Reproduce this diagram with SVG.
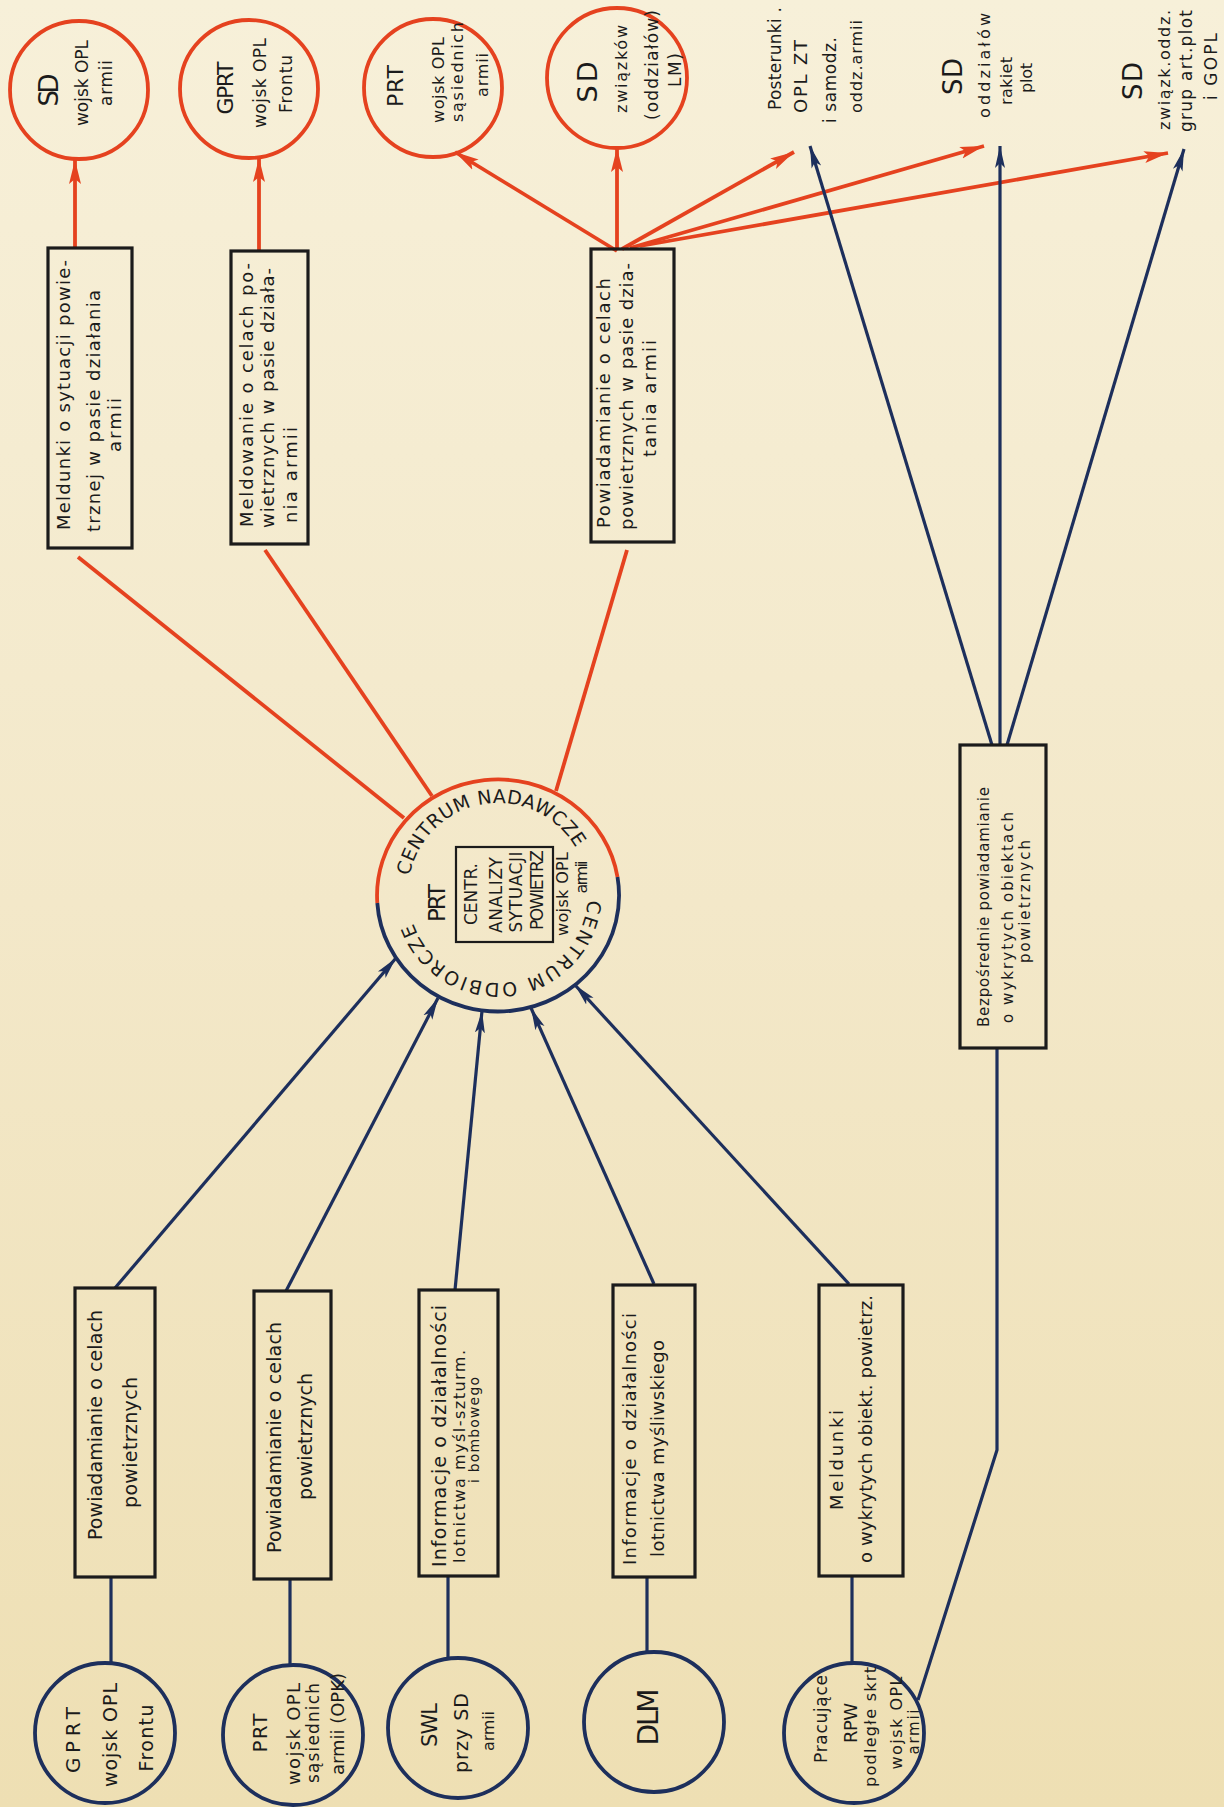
<svg xmlns="http://www.w3.org/2000/svg" width="1224" height="1807" viewBox="0 0 1224 1807">
<defs>
<linearGradient id="paper" x1="0" y1="0" x2="0" y2="1">
<stop offset="0" stop-color="#f7f0d9"/>
<stop offset="0.5" stop-color="#f3e8c9"/>
<stop offset="1" stop-color="#eedfb3"/>
</linearGradient>
<marker id="ar" markerUnits="userSpaceOnUse" markerWidth="26" markerHeight="14" refX="24" refY="7" orient="auto">
<path d="M0,1 L24,7 L0,13 L5,7 z" fill="#e5421f"/>
</marker>
<marker id="ab" markerUnits="userSpaceOnUse" markerWidth="24" markerHeight="12" refX="22" refY="6" orient="auto">
<path d="M0,1 L22,6 L0,11 L5,6 z" fill="#1d2f5c"/>
</marker>
<path id="ring" d="M408,893 A90,90 0 1 1 588,893 A90,90 0 1 1 408,893"/>
</defs>
<style>
text{font-family:"DejaVu Sans","Liberation Sans",sans-serif;fill:#1b1b1b;}
.m{text-anchor:middle;}
.rc{fill:none;stroke:#e5421f;stroke-width:3.8;}
.bc{fill:none;stroke:#1d2f5c;stroke-width:3.8;}
.bx{fill:none;stroke:#1b1b1b;stroke-width:3.2;}
.rl{fill:none;stroke:#e5421f;stroke-width:3.8;}
.bl{fill:none;stroke:#1d2f5c;stroke-width:3.2;}
</style>
<rect x="0" y="0" width="1224" height="1807" fill="url(#paper)"/>

<g id="connectors">
<line class="rl" x1="75" y1="248" x2="75" y2="160" marker-end="url(#ar)"/>
<line class="rl" x1="259" y1="251" x2="259" y2="158" marker-end="url(#ar)"/>
<line class="rl" x1="617" y1="251" x2="455" y2="152" marker-end="url(#ar)"/>
<line class="rl" x1="617" y1="249" x2="617" y2="148" marker-end="url(#ar)"/>
<line class="rl" x1="622" y1="249" x2="794" y2="152" marker-end="url(#ar)"/>
<line class="rl" x1="630" y1="248" x2="984" y2="146" marker-end="url(#ar)"/>
<line class="rl" x1="640" y1="246" x2="1168" y2="153" marker-end="url(#ar)"/>
<line class="rl" x1="78" y1="557" x2="404" y2="818"/>
<line class="rl" x1="265" y1="550" x2="432" y2="796"/>
<line class="rl" x1="627" y1="550" x2="556" y2="791"/>
<line class="bl" x1="115" y1="1288" x2="396" y2="958" marker-end="url(#ab)"/>
<line class="bl" x1="286" y1="1291" x2="438" y2="998" marker-end="url(#ab)"/>
<line class="bl" x1="455" y1="1290" x2="482" y2="1011" marker-end="url(#ab)"/>
<line class="bl" x1="654" y1="1284" x2="531" y2="1008" marker-end="url(#ab)"/>
<line class="bl" x1="849" y1="1284" x2="575" y2="985" marker-end="url(#ab)"/>
<line class="bl" x1="111" y1="1577" x2="111" y2="1663"/>
<line class="bl" x1="290" y1="1579" x2="290" y2="1665"/>
<line class="bl" x1="448" y1="1576" x2="448" y2="1658"/>
<line class="bl" x1="647" y1="1577" x2="647" y2="1652"/>
<line class="bl" x1="852" y1="1576" x2="852" y2="1663"/>
<polyline class="bl" points="918,1700 997,1450 997,1048"/>
<line class="bl" x1="992" y1="745" x2="810" y2="146" marker-end="url(#ab)"/>
<line class="bl" x1="1000" y1="745" x2="1000" y2="146" marker-end="url(#ab)"/>
<line class="bl" x1="1007" y1="745" x2="1184" y2="149" marker-end="url(#ab)"/>
</g>

<g id="sd-opl-armii">
<circle class="rc" cx="79" cy="90" r="69"/>
<g transform="rotate(-90)">
<text class="m" x="-90" y="58" font-size="26" textLength="33">SD</text>
<text class="m" x="-83" y="88" font-size="17" textLength="86">wojsk OPL</text>
<text class="m" x="-83" y="112" font-size="17" textLength="46">armii</text>
</g>
</g>

<g id="gprt-frontu-top">
<circle class="rc" cx="249" cy="89" r="69"/>
<g transform="rotate(-90)">
<text class="m" x="-88" y="233" font-size="22" textLength="53">GPRT</text>
<text class="m" x="-83" y="266" font-size="17" textLength="90">wojsk OPL</text>
<text class="m" x="-84" y="292" font-size="17" textLength="58">Frontu</text>
</g>
</g>

<g id="prt-sasiednich-top">
<circle class="rc" cx="433" cy="88" r="69"/>
<g transform="rotate(-90)">
<text class="m" x="-86" y="403" font-size="22" textLength="42">PRT</text>
<text class="m" x="-80" y="444" font-size="16" textLength="86">wojsk OPL</text>
<text class="m" x="-72" y="463" font-size="16" textLength="100">sąsiednich</text>
<text class="m" x="-75" y="488" font-size="16" textLength="44">armii</text>
</g>
</g>

<g id="sd-zwiazkow">
<circle class="rc" cx="617" cy="78" r="70"/>
<g transform="rotate(-90)">
<text class="m" x="-82" y="597" font-size="27" textLength="41">SD</text>
<text class="m" x="-69" y="627" font-size="16" textLength="88">związków</text>
<text class="m" x="-65" y="658" font-size="17" textLength="110">(oddziałów)</text>
<text class="m" x="-70" y="681" font-size="17" textLength="34">LM)</text>
</g>
</g>

<g id="posterunki">
<g transform="rotate(-90)">
<text x="-110" y="781" font-size="17" textLength="103">Posterunki .</text>
<text x="-113" y="807" font-size="18" textLength="73">OPL ZT</text>
<text x="-123" y="836" font-size="17" textLength="86">i samodz.</text>
<text x="-113" y="862" font-size="16" textLength="93">oddz.armii</text>
</g>
</g>

<g id="sd-rakiet">
<g transform="rotate(-90)">
<text x="-95" y="962" font-size="26" textLength="37">SD</text>
<text x="-118" y="990" font-size="16" textLength="105">oddziałów</text>
<text x="-105" y="1012" font-size="16" textLength="48">rakiet</text>
<text x="-93" y="1032" font-size="16" textLength="30">plot</text>
</g>
</g>

<g id="sd-gopl">
<g transform="rotate(-90)">
<text x="-100" y="1142" font-size="26" textLength="38">SD</text>
<text x="-130" y="1170" font-size="16" textLength="120">związk.oddz.</text>
<text x="-132" y="1192" font-size="17" textLength="122">grup art.plot</text>
<text x="-100" y="1217" font-size="17" textLength="67">i GOPL</text>
</g>
</g>

<g id="box-meldunki-sytuacji">
<rect class="bx" x="48" y="248" width="84" height="300"/>
<g transform="rotate(-90)">
<text x="-530" y="70" font-size="18" textLength="270">Meldunki o sytuacji powie-</text>
<text x="-532" y="100" font-size="18" textLength="242">trznej w pasie  działania</text>
<text x="-452" y="121" font-size="18" textLength="54">armii</text>
</g>
</g>

<g id="box-meldowanie">
<rect class="bx" x="231" y="251" width="77" height="293"/>
<g transform="rotate(-90)">
<text x="-527" y="253" font-size="18" textLength="264">Meldowanie o celach po-</text>
<text x="-528" y="274" font-size="18" textLength="260">wietrznych w pasie działa-</text>
<text x="-523" y="297" font-size="18" textLength="96">nia armii</text>
</g>
</g>

<g id="box-powiadamianie-armii">
<rect class="bx" x="591" y="249" width="83" height="293"/>
<g transform="rotate(-90)">
<text x="-528" y="610" font-size="18" textLength="250">Powiadamianie o celach</text>
<text x="-530" y="633" font-size="18" textLength="267">powietrznych w pasie dzia-</text>
<text x="-457" y="656" font-size="18" textLength="117">tania armii</text>
</g>
</g>

<g id="box-bezposrednie">
<rect class="bx" x="960" y="745" width="86" height="303"/>
<g transform="rotate(-90)">
<text x="-1027" y="989" font-size="15" textLength="240">Bezpośrednie  powiadamianie</text>
<text x="-1023" y="1013" font-size="15" textLength="211">o wykrytych  obiektach</text>
<text x="-963" y="1030" font-size="15" textLength="123">powietrznych</text>
</g>
</g>

<g id="centrum">
<path d="M377.3,903 A121,116 0 0 1 617.5,877" fill="none" stroke="#e5421f" stroke-width="3.8"/>
<path d="M617.5,877 A121,116 0 1 1 377.3,903" fill="none" stroke="#1d2f5c" stroke-width="3.8"/>
<text font-size="19"><textPath href="#ring" startOffset="17" textLength="218">CENTRUM NADAWCZE</textPath></text>
<text font-size="19"><textPath href="#ring" startOffset="289" textLength="245">CENTRUM ODBIORCZE</textPath></text>
<rect x="456" y="847" width="97" height="95" fill="none" stroke="#1b1b1b" stroke-width="2.2"/>
<g transform="rotate(-90)">
<text class="m" x="-903" y="445" font-size="23" textLength="38">PRT</text>
<text class="m" x="-894" y="477" font-size="17" textLength="62">CENTR.</text>
<text class="m" x="-895" y="502" font-size="17" textLength="76">ANALIZY</text>
<text class="m" x="-892" y="522" font-size="17" textLength="81">SYTUACJI</text>
<text class="m" x="-890" y="543" font-size="17" textLength="80">POWIETRZ</text>
<text class="m" x="-894" y="568" font-size="16" textLength="84">wojsk OPL</text>
<text class="m" x="-877" y="587" font-size="16" textLength="33">armii</text>
</g>
</g>

<g id="box-powiadamianie-1">
<rect class="bx" x="75" y="1288" width="80" height="289"/>
<g transform="rotate(-90)">
<text x="-1540" y="102" font-size="19" textLength="230">Powiadamianie o celach</text>
<text x="-1508" y="137" font-size="19" textLength="131">powietrznych</text>
</g>
</g>

<g id="box-powiadamianie-2">
<rect class="bx" x="254" y="1291" width="77" height="288"/>
<g transform="rotate(-90)">
<text x="-1553" y="281" font-size="19" textLength="231">Powiadamianie  o  celach</text>
<text x="-1500" y="312" font-size="19" textLength="127">powietrznych</text>
</g>
</g>

<g id="box-informacje-szturm">
<rect class="bx" x="419" y="1290" width="79" height="286"/>
<g transform="rotate(-90)">
<text x="-1567" y="446" font-size="19" textLength="262">Informacje o działalności</text>
<text x="-1563" y="465" font-size="16" textLength="213">lotnictwa  myśl-szturm.</text>
<text x="-1483" y="479" font-size="14" textLength="106">i bombowego</text>
</g>
</g>

<g id="box-informacje-mysliwskie">
<rect class="bx" x="613" y="1285" width="82" height="292"/>
<g transform="rotate(-90)">
<text x="-1565" y="636" font-size="18" textLength="252">Informacje o działalności</text>
<text x="-1557" y="664" font-size="18" textLength="217">lotnictwa  myśliwskiego</text>
</g>
</g>

<g id="box-meldunki-obiekt">
<rect class="bx" x="819" y="1285" width="84" height="291"/>
<g transform="rotate(-90)">
<text x="-1510" y="843" font-size="18" textLength="100">Meldunki</text>
<text x="-1563" y="872" font-size="18" textLength="268">o wykrytych obiekt. powietrz.</text>
</g>
</g>

<g id="gprt-frontu">
<circle class="bc" cx="105" cy="1733" r="70"/>
<g transform="rotate(-90)">
<text class="m" x="-1740" y="80" font-size="20" textLength="66">GPRT</text>
<text class="m" x="-1735" y="117" font-size="19" textLength="104">wojsk OPL</text>
<text class="m" x="-1738" y="153" font-size="19" textLength="67">Frontu</text>
</g>
</g>

<g id="prt-sasiednich">
<circle class="bc" cx="293" cy="1735" r="70"/>
<g transform="rotate(-90)">
<text class="m" x="-1733" y="267" font-size="20" textLength="39">PRT</text>
<text class="m" x="-1734" y="300" font-size="18" textLength="102">wojsk OPL</text>
<text class="m" x="-1733" y="319" font-size="17" textLength="100">sąsiednich</text>
<text class="m" x="-1724" y="344" font-size="18" textLength="102">armii (OPK)</text>
</g>
</g>

<g id="swl">
<circle class="bc" cx="458" cy="1728" r="70"/>
<g transform="rotate(-90)">
<text class="m" x="-1725" y="437" font-size="21" textLength="44">SWL</text>
<text class="m" x="-1733" y="468" font-size="19" textLength="80">przy SD</text>
<text class="m" x="-1731" y="494" font-size="16" textLength="40">armii</text>
</g>
</g>

<g id="dlm">
<circle class="bc" cx="654" cy="1722" r="70"/>
<g transform="rotate(-90)">
<text class="m" x="-1717" y="658" font-size="28" textLength="57">DLM</text>
</g>
</g>

<g id="rpw">
<circle class="bc" cx="854" cy="1733" r="70"/>
<g transform="rotate(-90)">
<text class="m" x="-1719" y="827" font-size="17" textLength="88">Pracujące</text>
<text class="m" x="-1723" y="857" font-size="18" textLength="40">RPW</text>
<text class="m" x="-1727" y="876" font-size="16" textLength="120">podległe skrt</text>
<text class="m" x="-1723" y="902" font-size="16" textLength="93">wojsk OPL</text>
<text class="m" x="-1732" y="919" font-size="15" textLength="45">armii</text>
</g>
</g>
</svg>
